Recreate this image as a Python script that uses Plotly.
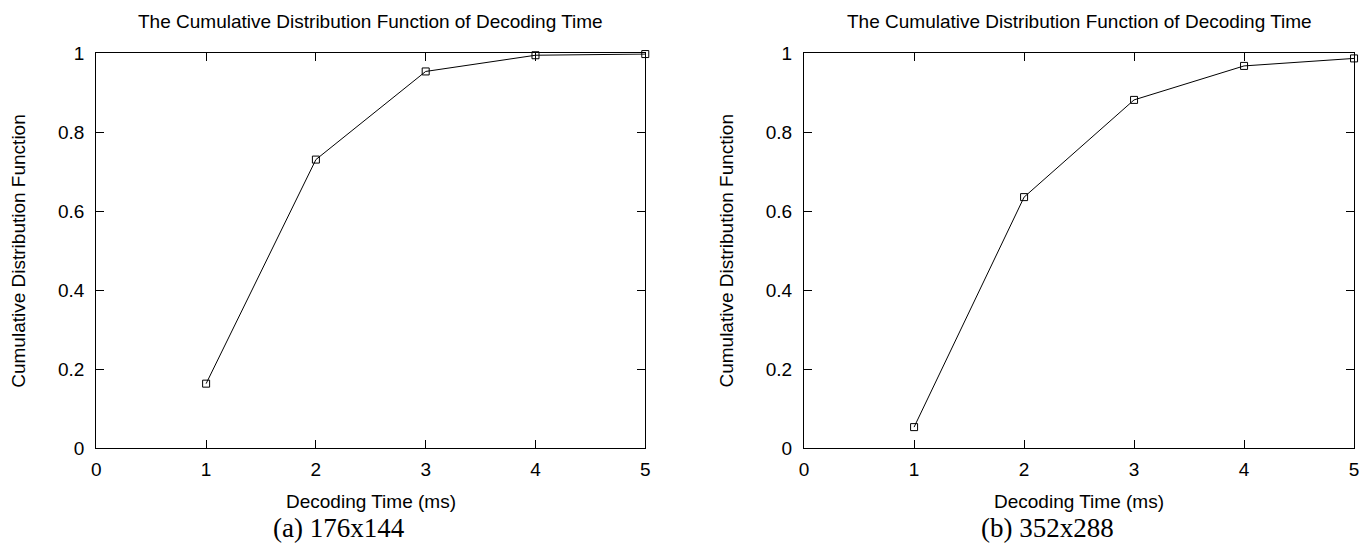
import plotly.graph_objects as go

# Data
decoding_time_ms = [1, 2, 3, 4, 5]
cdf_176x144 = [0.164, 0.731, 0.954, 0.995, 0.998]
cdf_352x288 = [0.054, 0.636, 0.882, 0.968, 0.987]

x_ticks = [0, 1, 2, 3, 4, 5]
y_ticks = [0, 0.2, 0.4, 0.6, 0.8, 1]
y_tick_labels = ["0", "0.2", "0.4", "0.6", "0.8", "1"]

title_text = "The Cumulative Distribution Function of Decoding Time"
x_title = "Decoding Time (ms)"
y_title = "Cumulative Distribution Function"
captions = ["(a) 176x144", "(b) 352x288"]

W, H = 1364, 546
SANS = "Liberation Sans, Arial, Helvetica, sans-serif"
SERIF = "Liberation Serif, Times New Roman, serif"
FS = 19

# plot-area pixel boxes (left, right), top, bottom
boxes = [(92, 645), (805, 1359)]
top_px, bot_px = 45, 456

fig = go.Figure()

series = [cdf_176x144, cdf_352x288]
for i, (vals, (l, r)) in enumerate(zip(series, boxes)):
    n = "" if i == 0 else str(i + 1)
    fig.add_trace(go.Scatter(
        x=decoding_time_ms, y=vals, mode="lines+markers",
        line=dict(color="black", width=1),
        marker=dict(symbol="square-open", size=7, color="black", line=dict(width=1)),
        xaxis="x" + n, yaxis="y" + n, cliponaxis=False, showlegend=False,
    ))
    axcommon = dict(showline=True, linecolor="black", linewidth=1.3, mirror="ticks",
                    ticks="inside", ticklen=8, tickwidth=1, tickcolor="black",
                    showgrid=False, zeroline=False,
                    tickfont=dict(family=SANS, size=FS, color="black"))
    fig.update_layout(**{
        "xaxis" + n: dict(domain=[l / W, r / W], range=[0, 5], tickvals=x_ticks,
                          anchor="y" + n, ticklabelstandoff=4, **axcommon),
        "yaxis" + n: dict(domain=[(H - bot_px) / H, (H - top_px) / H], range=[0, 1],
                          tickvals=y_ticks, ticktext=y_tick_labels,
                          anchor="x" + n, ticklabelstandoff=7, **axcommon),
    })
    cx = (l + r) / 2 / W
    fig.add_annotation(text=title_text, x=cx, y=1 - 12 / H, xref="paper", yref="paper",
                       showarrow=False, font=dict(family=SANS, size=FS, color="black"),
                       xanchor="center", yanchor="middle")
    fig.add_annotation(text=x_title, x=cx, y=1 - 511 / H, xref="paper", yref="paper",
                       showarrow=False, font=dict(family=SANS, size=FS, color="black"),
                       xanchor="center", yanchor="middle")
    fig.add_annotation(text=y_title, x=(l - 78) / W, y=1 - ((top_px + bot_px) / 2) / H,
                       xref="paper", yref="paper", textangle=-90,
                       showarrow=False, font=dict(family=SANS, size=FS, color="black"),
                       xanchor="center", yanchor="middle")
    fig.add_annotation(text=captions[i], x=(l + r) / 2 / W - 32 / W,
                       y=1 - 539 / H, xref="paper", yref="paper",
                       showarrow=False, font=dict(family=SERIF, size=27, color="black"),
                       xanchor="center", yanchor="middle")

fig.update_layout(width=W, height=H, margin=dict(l=0, r=0, t=0, b=0),
                  paper_bgcolor="white", plot_bgcolor="white")

fig.write_html("out.html")
